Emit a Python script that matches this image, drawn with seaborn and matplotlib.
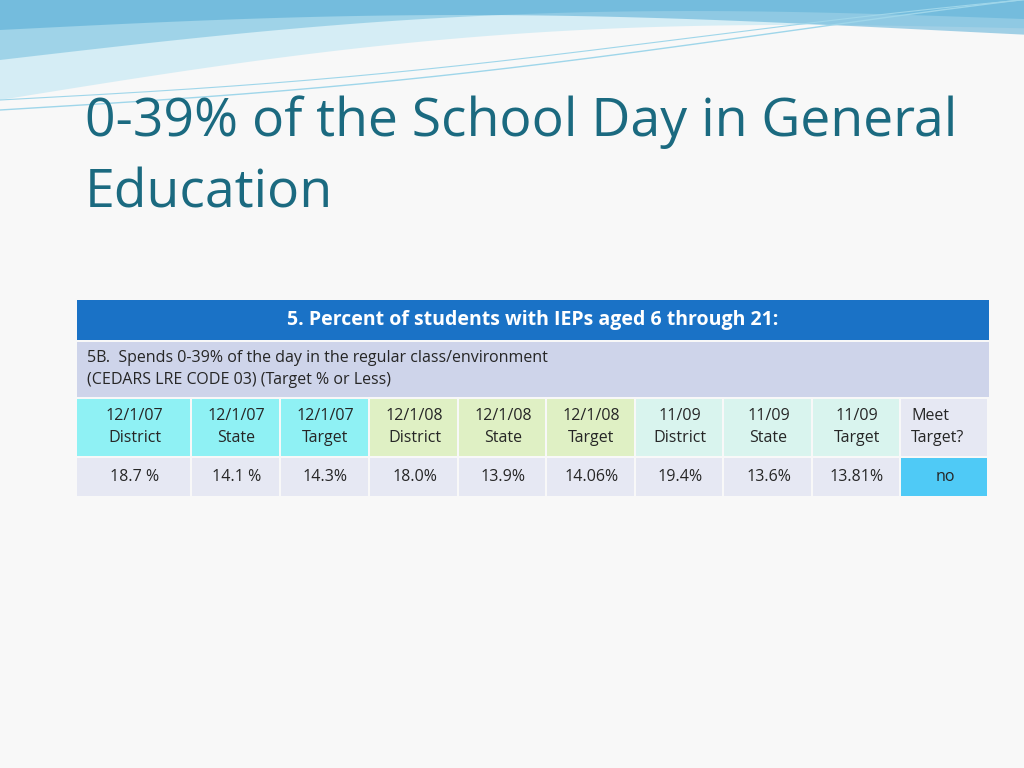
import matplotlib.pyplot as plt
import numpy as np
import seaborn as sns
from matplotlib.patches import Rectangle

sns.set_style("white")
plt.rcParams['font.family'] = 'Open Sans'

# slide text and table contents
title_lines = ['0-39% of the School Day in General', 'Education']
header = '5. Percent of students with IEPs aged 6 through 21:'
subheader = ['5B.  Spends 0-39% of the day in the regular class/environment',
             '(CEDARS LRE CODE 03) (Target % or Less)']
col_labels = ['12/1/07\nDistrict', '12/1/07\nState', '12/1/07\nTarget',
              '12/1/08\nDistrict', '12/1/08\nState', '12/1/08\nTarget',
              '11/09\nDistrict', '11/09\nState', '11/09\nTarget', 'Meet\nTarget?']
values = ['18.7 %', '14.1 %', '14.3%', '18.0%', '13.9%', '14.06%',
          '19.4%', '13.6%', '13.81%', 'no']
label_colors = ['#8ff1f4'] * 3 + ['#dff0c4'] * 3 + ['#d9f4ee'] * 3 + ['#e6e8f3']
value_colors = ['#e6e8f3'] * 9 + ['#4fcaf6']

# layout (pixels)
col_edges = [77, 192, 281, 370, 459, 547, 636, 724, 813, 901, 989]
rows = [(300, 340), (342, 397), (399, 456), (458, 496)]

fig = plt.figure(figsize=(10.24, 7.68), dpi=100)
fig.patch.set_facecolor('#f8f8f8')
ax = fig.add_axes([0, 0, 1, 1])
ax.set_xlim(0, 1024)
ax.set_ylim(768, 0)
ax.axis('off')

# decorative waves at the top
x = np.linspace(0, 1024, 300)
ax.fill_between(x, 0, 100 - x * 0.07 - 30 * np.sin(x / 1024 * np.pi),
                color='#bfe6f3', alpha=0.6, lw=0)
ax.fill_between(x, 0, 60 - x * 0.04 - 25 * np.sin(x / 1024 * np.pi),
                color='#7cc3e0', alpha=0.6, lw=0)
ax.fill_between(x, 0, 30 - 15 * np.sin(x / 1024 * np.pi * 1.1),
                color='#4aa7d3', alpha=0.5, lw=0)
ax.plot(x, 110 - x * 0.1 + 10 * np.sin(x / 250), color='#9fd6ea', lw=1)
ax.plot(x, 100 - x * 0.09 + 8 * np.sin(x / 220), color='#9fd6ea', lw=0.8)

for i, line in enumerate(title_lines):
    ax.text(85, 122 + 72 * i, line, fontsize=38.5, color='#1b6a80',
            va='center', ha='left')

# header rows
y0, y1 = rows[0]
ax.add_patch(Rectangle((77, y0), 912, y1 - y0, color='#1a72c6', lw=0))
ax.text(533, (y0 + y1) / 2, header, color='white', fontsize=14,
        fontweight='bold', ha='center', va='center')
y0, y1 = rows[1]
ax.add_patch(Rectangle((77, y0), 912, y1 - y0, color='#ced4ea', lw=0))
ax.text(87, (y0 + y1) / 2, '\n'.join(subheader), fontsize=11.5,
        ha='left', va='center', linespacing=1.5)

for j in range(10):
    xl, xr = col_edges[j], col_edges[j + 1]
    for (y0, y1), txt, c in [(rows[2], col_labels[j], label_colors[j]),
                             (rows[3], values[j], value_colors[j])]:
        ax.add_patch(Rectangle((xl, y0), xr - xl - 2, y1 - y0, color=c, lw=0))
        if j == 9 and '\n' in txt:
            ax.text(xl + 10, (y0 + y1) / 2, txt, fontsize=11.5, ha='left',
                    va='center', linespacing=1.5)
        else:
            ax.text((xl + xr) / 2, (y0 + y1) / 2, txt, fontsize=11.5,
                    ha='center', va='center', linespacing=1.5)

fig.savefig('out.png', dpi=100, facecolor=fig.get_facecolor())
